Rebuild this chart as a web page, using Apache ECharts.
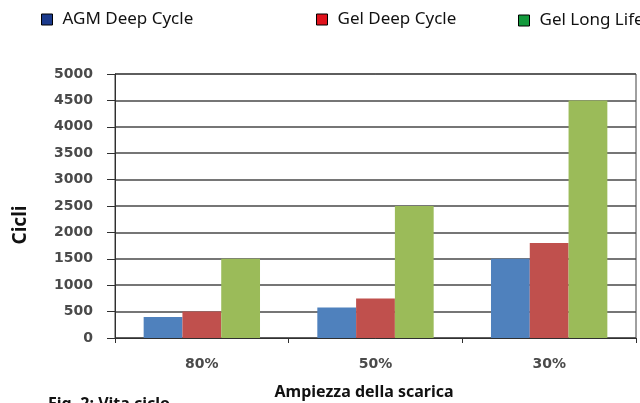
<!DOCTYPE html>
<html>
<head>
<meta charset="utf-8">
<script src="https://cdn.jsdelivr.net/npm/echarts@6/dist/echarts.min.js"></script>
<style>
html,body{margin:0;padding:0;background:#fff;}
#chart{width:640px;height:403px;}
</style>
</head>
<body>
<div id="chart"></div>
<script>
var categories = ['80%', '50%', '30%'];
var seriesNames = ['AGM Deep Cycle', 'Gel Deep Cycle', 'Gel Long Life'];
var agmDeepCycle = [400, 580, 1500];
var gelDeepCycle = [500, 750, 1800];
var gelLongLife = [1500, 2500, 4500];
var yTicks = [0, 500, 1000, 1500, 2000, 2500, 3000, 3500, 4000, 4500, 5000];

var barColors = ['#4F81BD', '#C0504D', '#9BBB59'];
var legendColors = ['#1B3A8C', '#E0121C', '#139A3C'];
var legendPos = [{left: 41, top: 11}, {left: 316, top: 11}, {left: 518, top: 12}];

var chart = echarts.init(document.getElementById('chart'), null, {renderer: 'canvas'});

var legends = seriesNames.map(function (n, i) {
  return {
    left: legendPos[i].left,
    top: legendPos[i].top,
    padding: 0,
    icon: 'rect',
    itemWidth: 11,
    itemHeight: 11,
    selectedMode: false,
    textStyle: {fontFamily: 'Noto Sans', fontSize: 17, color: '#111', padding: [0, 0, 0, 5]},
    data: [{name: n, itemStyle: {color: legendColors[i], borderColor: '#000', borderWidth: 1}}]
  };
});

var dataSets = [agmDeepCycle, gelDeepCycle, gelLongLife];

chart.setOption({
  animation: false,
  backgroundColor: '#fff',
  legend: legends,
  grid: {left: 115, right: 4, top: 74, bottom: 65, show: true, borderColor: '#404040', borderWidth: 1},
  xAxis: {
    type: 'category',
    data: categories,
    axisLine: {lineStyle: {color: '#303030', width: 1}},
    axisTick: {show: true, length: 5, lineStyle: {color: '#303030'}},
    axisLabel: {margin: 19, fontFamily: 'DejaVu Sans', fontWeight: 'bold', fontSize: 14, color: '#4a4a4a'}
  },
  yAxis: {
    type: 'value',
    min: yTicks[0],
    max: yTicks[yTicks.length - 1],
    interval: 500,
    axisLine: {show: true, lineStyle: {color: '#303030', width: 1}},
    axisTick: {show: true, length: 8, lineStyle: {color: '#303030'}},
    axisLabel: {margin: 22, fontFamily: 'DejaVu Sans', fontWeight: 'bold', fontSize: 14, color: '#4a4a4a',
      formatter: function (v) { return String(v); }},
    splitLine: {show: true, lineStyle: {color: '#484848', width: 1.5}}
  },
  series: dataSets.map(function (d, i) {
    return {
      name: seriesNames[i],
      type: 'bar',
      data: d,
      barGap: '0%',
      barCategoryGap: '33%',
      itemStyle: {color: barColors[i]}
    };
  }),
  graphic: [
    {type: 'text', x: 364, y: 392, style: {text: 'Ampiezza della scarica', fontFamily: 'Noto Sans', fontWeight: 'bold', fontSize: 16, fill: '#111', textAlign: 'center', textVerticalAlign: 'middle'}},
    {type: 'text', x: 21, y: 225, rotation: Math.PI / 2, style: {text: 'Cicli', fontFamily: 'Noto Sans', fontWeight: 'bold', fontSize: 19, fill: '#111', textAlign: 'center', textVerticalAlign: 'middle'}},
    {type: 'text', x: 48, y: 404, style: {text: 'Fig. 2: Vita ciclo', fontFamily: 'Noto Sans', fontWeight: 'bold', fontSize: 16, fill: '#111', textAlign: 'left', textVerticalAlign: 'middle'}}
  ]
});
</script>
</body>
</html>
